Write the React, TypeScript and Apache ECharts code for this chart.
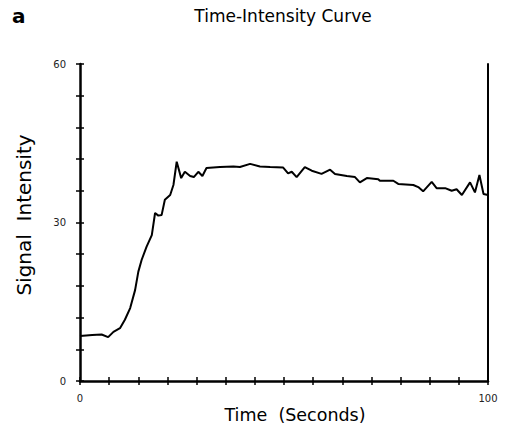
import React, { useEffect, useRef } from "react";
import * as echarts from "echarts";

const timeSec = [0, 3, 5.3, 6.9, 8.2, 9.8, 11, 12.3, 13.5, 14.3, 15.1, 16.3, 17.6, 18.4, 19.2, 20, 20.8, 22.1, 22.9, 23.7, 24.8, 25.7, 27, 27.9, 29, 30, 31, 34.3, 37.6, 39.2, 41.7, 44.1, 46.6, 49.8, 51, 51.9, 53.1, 55.1, 56.8, 59.2, 61.3, 62.5, 65.4, 67.4, 68.6, 70.3, 73.1, 73.5, 76.8, 78, 81.7, 82.9, 84.1, 86.2, 87.4, 89.5, 91.1, 92.3, 93.6, 95.6, 96.8, 97.9, 98.9, 100];
const signal = [8.5, 8.7, 8.8, 8.3, 9.3, 10.0, 11.6, 13.8, 17.2, 20.7, 22.9, 25.4, 27.6, 31.8, 31.3, 31.4, 34.3, 35.2, 37.1, 41.5, 38.4, 39.6, 38.8, 38.6, 39.6, 38.8, 40.3, 40.5, 40.6, 40.5, 41.1, 40.6, 40.5, 40.4, 39.3, 39.6, 38.6, 40.5, 39.8, 39.2, 40.0, 39.2, 38.8, 38.6, 37.6, 38.4, 38.2, 37.9, 37.9, 37.3, 37.1, 36.7, 35.9, 37.7, 36.5, 36.5, 36.0, 36.3, 35.2, 37.6, 35.7, 39.0, 35.4, 35.2];

// x-axis tick marks: 14 equal divisions of the 0-100 s span
const xTickCount = 14;
const xLabels = [0, 100];
const yLabels = [0, 30, 60];

const FONT = "DejaVu Sans";

export default function App() {
  const ref = useRef<HTMLDivElement>(null);
  useEffect(() => {
    if (!ref.current) return;
    const chart = echarts.init(ref.current, null, { renderer: "svg" });
    const tickStyle = { color: "#000", width: 1.5 };
    const tickAxisX = (inside: boolean) => ({
      type: "value", min: 0, max: xTickCount, interval: 1, position: "bottom",
      axisLine: { show: false, onZero: false },
      axisTick: { show: true, inside, length: 4, lineStyle: tickStyle },
      axisLabel: { show: false },
      splitLine: { show: false },
    });
    chart.setOption({
      animation: false,
      backgroundColor: "#fff",
      grid: { left: 80, right: 17, top: 64, bottom: 49, containLabel: false },
      graphic: [
        { type: "text", left: 12, top: 6, style: { text: "a", font: `bold 20px ${FONT}`, fill: "#000" } },
        { type: "text", x: 283, y: 16, style: { text: "Time-Intensity Curve", font: `17px ${FONT}`, fill: "#000", align: "center", verticalAlign: "middle" } },
        { type: "text", x: 24, y: 215, rotation: Math.PI / 2, style: { text: "Signal\u00A0\u00A0Intensity", font: `20px ${FONT}`, fill: "#000", align: "center", verticalAlign: "middle" } },
        { type: "text", x: 295, y: 415, style: { text: "Time\u00A0\u00A0(Seconds)", font: `17.5px ${FONT}`, fill: "#000", align: "center", verticalAlign: "middle" } },
      ],
      xAxis: [
        {
          type: "value", min: 0, max: 100, position: "bottom",
          axisLine: { show: true, onZero: false, lineStyle: { color: "#000", width: 2.5 } },
          axisTick: { show: false },
          axisLabel: { show: true, customValues: xLabels, margin: 12, fontSize: 10, fontFamily: FONT, color: "#222" },
          splitLine: { show: false },
        },
        tickAxisX(false),
        tickAxisX(true),
      ],
      yAxis: [
        {
          type: "value", min: 0, max: 60, interval: 6, position: "left",
          axisLine: { show: true, onZero: false, lineStyle: { color: "#000", width: 2.5 } },
          axisTick: { show: true, length: 4, lineStyle: tickStyle },
          axisLabel: { show: true, customValues: yLabels, margin: 14, fontSize: 10, fontFamily: FONT, color: "#222" },
          splitLine: { show: false },
        },
        {
          type: "value", min: 0, max: 60, interval: 6, position: "left",
          axisLine: { show: false, onZero: false },
          axisTick: { show: true, inside: true, length: 4, lineStyle: tickStyle },
          axisLabel: { show: false },
          splitLine: { show: false },
        },
        {
          type: "value", min: 0, max: 60, interval: 6, position: "right",
          axisLine: { show: true, onZero: false, lineStyle: { color: "#000", width: 2 } },
          axisTick: { show: false },
          axisLabel: { show: false },
          splitLine: { show: false },
        },
      ],
      series: [
        {
          type: "line",
          xAxisIndex: 0,
          yAxisIndex: 0,
          data: timeSec.map((t, i) => [t, signal[i]]),
          showSymbol: false,
          symbol: "none",
          lineStyle: { color: "#000", width: 2 },
          clip: false,
        },
      ],
    });
    return () => chart.dispose();
  }, []);
  return <div ref={ref} style={{ width: 505, height: 430, position: "absolute", left: 0, top: 0 }} />;
}
